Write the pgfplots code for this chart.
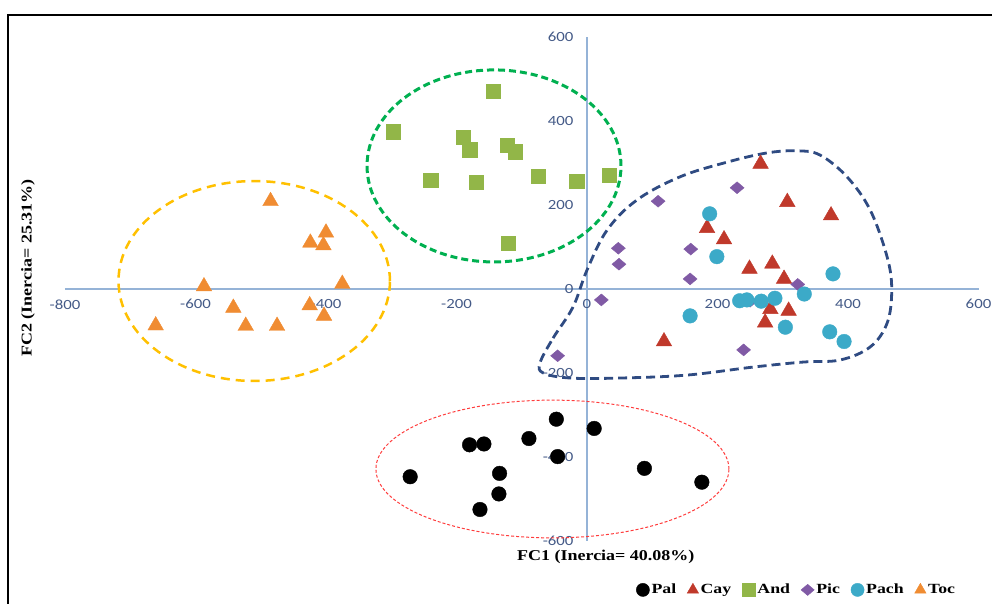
\documentclass[border=0pt]{standalone}
\usepackage{fontspec}
\setmainfont{Liberation Serif}
\newfontfamily\calibri[FakeStretch=1.2]{Carlito}
\newfontfamily\lblfont[FakeStretch=1.2]{Liberation Serif}
\newfontfamily\legfont[FakeStretch=1.27]{Liberation Serif}
\usepackage{pgfplots}
\pgfplotsset{compat=1.18}
\definecolor{tickcol}{RGB}{68,90,135}
\definecolor{axcol}{RGB}{149,179,215}
\definecolor{cPal}{RGB}{0,0,0}
\definecolor{cCay}{RGB}{192,57,43}
\definecolor{cAnd}{RGB}{146,182,72}
\definecolor{cPic}{RGB}{128,90,165}
\definecolor{cPach}{RGB}{60,170,200}
\definecolor{cToc}{RGB}{240,140,50}
\definecolor{eToc}{RGB}{255,192,0}
\definecolor{eAnd}{RGB}{0,176,80}
\definecolor{ePal}{RGB}{255,60,60}
\definecolor{eBlue}{RGB}{47,75,130}
\pgfdeclareplotmark{rhomb}{%
  \pgfpathmoveto{\pgfqpoint{0pt}{0.85\pgfplotmarksize}}%
  \pgfpathlineto{\pgfqpoint{\pgfplotmarksize}{0pt}}%
  \pgfpathlineto{\pgfqpoint{0pt}{-0.85\pgfplotmarksize}}%
  \pgfpathlineto{\pgfqpoint{-\pgfplotmarksize}{0pt}}%
  \pgfpathclose\pgfusepathqfillstroke}
\pgfplotsset{mylegimg/.style={legend image code/.code={\draw[##1, mark size=6.6pt] plot coordinates {(0pt,0pt)};}}}
\begin{document}
\begin{tikzpicture}
\path[use as bounding box] (-65pt,-63pt) rectangle (927pt,541pt);
\begin{axis}[
  at={(0pt,0pt)}, anchor=south west,
  scale only axis, width=913.5pt, height=504pt,
  xmin=-800, xmax=600, ymin=-600, ymax=600,
  axis lines=middle,
  axis line style={draw=axcol, line width=1.2pt, -},
  hide obscured x ticks=false, hide obscured y ticks=false,
  xtick={-800,-600,-400,-200,0,200,400,600},
  xticklabels={-800,-600,-400,-200,0,200,400,600},
  ytick={-600,-400,-200,0,200,400,600},
  yticklabels={-600,-400,-200,0,200,400,600},
  major tick length=0pt,
  xticklabel style={font=\calibri\fontsize{14}{14}\selectfont, text=tickcol, anchor=north, yshift=-7pt},
  yticklabel style={font=\calibri\fontsize{14}{14}\selectfont, text=tickcol, anchor=east, xshift=-10pt},
  xlabel={FC1 (Inercia= 40.08\%)},
  ylabel={FC2 (Inercia= 25.31\%)},
  xlabel style={font=\lblfont\bfseries\fontsize{15}{15}\selectfont, at={(axis description cs:0.592,-0.032)}, anchor=center},
  ylabel style={font=\lblfont\bfseries\fontsize{15}{15}\selectfont, at={(axis description cs:-0.0405,0.5417)}, anchor=center, rotate=90},
  clip=false,
  legend columns=6,
  legend style={draw=none, fill=none, at={(axis description cs:0.801,-0.097)}, anchor=center,
    font=\legfont\bfseries\fontsize{14}{14}\selectfont,
    nodes={inner xsep=2pt},
    /tikz/every even column/.append style={column sep=9pt},
    inner sep=0pt},
  legend cell align=left,
]
\draw[eToc, line width=2.5pt, dash pattern=on 9pt off 6pt] (axis cs:-510,19) ellipse [x radius=208, y radius=238];
\draw[eAnd, line width=3pt, dash pattern=on 7pt off 4pt] (axis cs:-142.5,293) ellipse [x radius=194.6, y radius=228.6];
\draw[ePal, line width=1pt, dash pattern=on 3pt off 2pt] (axis cs:-53,-428.6) ellipse [x radius=270.5, y radius=164];
\draw[eBlue, line width=2.8pt, dash pattern=on 9pt off 5pt] plot[smooth cycle, tension=0.6] coordinates {
  (-72,-176) (-52,-117) (-21.5,-43) (0,45) (30.7,140) (76.6,212) (142.5,267) (214.6,302) (276,324) (322,329) (357,319) (398.5,267) (434,188) (460,76) (467,-2) (460,-81) (434,-138) (388,-169) (331,-174) (254,-186) (153,-205) (50.6,-212) (-26,-212) (-67,-200)};
\addplot[only marks, mylegimg, mark=*, mark size=7.3pt, mark options={fill=cPal, draw=cPal}] coordinates {
(-47,-310) (11,-332) (-89,-356) (-180,-371) (-158,-369) (-45,-399) (-271,-447) (-134,-439) (-135,-488) (-164,-525) (88,-427) (176,-460)};
\addlegendentry{Pal}
\addplot[only marks, mylegimg, mark=triangle*, mark size=9pt, mark options={fill=cCay, draw=cCay}] coordinates {
(266,298) (307,207) (374,175) (184,145) (210,118) (284,60) (249,48) (302,24) (281,-48) (309,-52) (273,-80) (118,-125)};
\addlegendentry{Cay}
\addplot[only marks, mylegimg, mark=square*, mark size=7.3pt, mark options={fill=cAnd, draw=cAnd}] coordinates {
(-144,471) (-297,374) (-190,361) (-180,331) (-122,342) (-110,327) (-240,259) (-170,254) (-75,269) (-16,257) (34,271) (-121,109)};
\addlegendentry{And}
\addplot[only marks, mylegimg, mark=rhomb, mark size=7pt, mark options={fill=cPic, draw=cPic}] coordinates {
(230,241) (109,209) (48,97) (159,95) (49,59) (158,24) (323,11) (22,-26) (250,-29) (240,-145) (-45,-159)};
\addlegendentry{Pic}
\addplot[only marks, mylegimg, mark=*, mark size=7.3pt, mark options={fill=cPach, draw=cPach}] coordinates {
(188,179) (199,77) (377,36) (333,-12) (234,-28) (245,-26) (267,-29) (288,-22) (158,-64) (304,-91) (372,-102) (394,-125)};
\addlegendentry{Pach}
\addplot[only marks, mylegimg, mark=triangle*, mark size=9pt, mark options={fill=cToc, draw=cToc}] coordinates {
(-485,209) (-400,134) (-424,110) (-404,104) (-587,6) (-375,12) (-542,-45) (-425,-39) (-403,-64) (-661,-87) (-523,-88) (-475,-88)};
\addlegendentry{Toc}
\end{axis}
\draw[black, line width=2pt] (-57pt,-70pt) -- (-57pt,526pt) -- (935pt,526pt);
\end{tikzpicture}
\end{document}
